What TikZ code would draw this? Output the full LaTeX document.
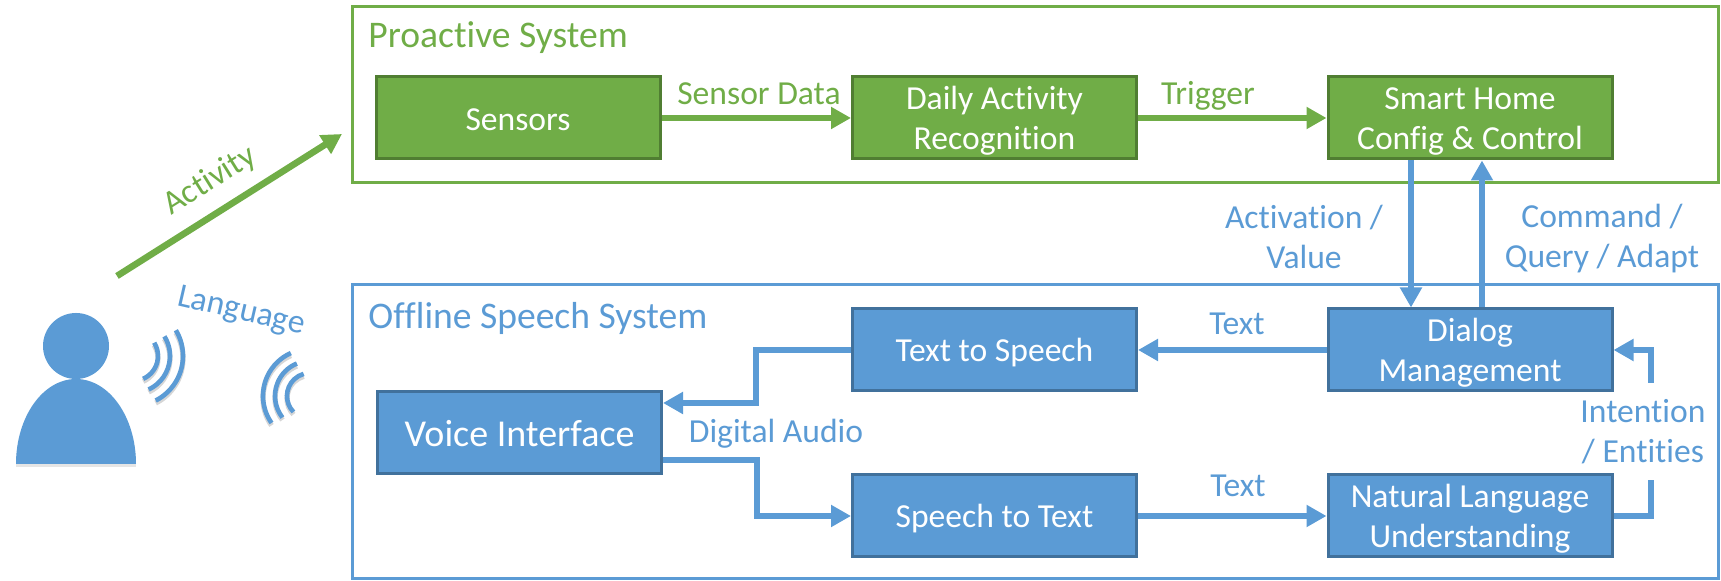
\documentclass[tikz,border=0pt]{standalone}
\usepackage{fontspec}
\setmainfont[Ligatures=NoCommon]{Carlito}
\usetikzlibrary{arrows.meta,positioning}
\definecolor{sysgreen}{HTML}{70AD47}
\definecolor{sysgreenedge}{HTML}{507E32}
\definecolor{sysblue}{HTML}{5B9BD5}
\definecolor{sysblueedge}{HTML}{41719C}

\begin{document}
\begin{tikzpicture}[x=0.5pt,y=0.5pt,>={Triangle[length=10pt,width=10.5pt]}, every node/.style={font=\fontsize{16.8}{20}\selectfont,align=center}]
    \tikzset{textdrop/.style={execute at begin node={\rule{0pt}{#1}}}}
    \tikzset{greenbox/.style={draw=sysgreenedge,fill=sysgreen,line width=1.5pt,text=white,minimum width=142pt,minimum height=41pt,inner sep=0pt}}
    \tikzset{bluebox/.style={draw=sysblueedge,fill=sysblue,line width=1.5pt,text=white,minimum width=142pt,minimum height=41pt,inner sep=0pt}}
    \tikzset{greenframe/.style={draw=sysgreen,line width=1.5pt,minimum width=683pt,inner sep=0pt}}
    \tikzset{blueframe/.style={draw=sysblue,line width=1.5pt,minimum width=683pt,inner sep=0pt}}
    \tikzset{greenline/.style={draw=sysgreen,line width=3.3pt}}
    \tikzset{blueline/.style={draw=sysblue,line width=3.3pt}}
    \tikzset{greenlabel/.style={text=sysgreen,inner sep=0pt}}
    \tikzset{bluelabel/.style={text=sysblue,inner sep=0pt}}
    \tikzset{wave/.style={draw=sysblue,line width=2.3pt}}
    \tikzset{waveshade/.style={draw=black,opacity=0.16,line width=2.6pt}}

    \useasboundingbox (0,0) rectangle (1721,581);

    % Frames
    \node[greenframe,minimum height=88pt] (proactive) at (1035,486) {};
    \node[blueframe,minimum height=147pt] (offline) at (1035,149) {};
    \node[greenlabel,anchor=west,font=\fontsize{18.8}{20}\selectfont] (proactivetitle) at (368,543) {Proactive System};
    \node[bluelabel,anchor=west,font=\fontsize{18.8}{20}\selectfont] (offlinetitle) at (368,263) {Offline Speech System};

    % Proactive
    \node[greenbox,textdrop=12.5pt] (sensors) at (518,463) {Sensors};
    \node[greenbox,textdrop=34pt] (daily) at (994.5,463) {Daily Activity\\Recognition};
    \node[greenbox,textdrop=34pt] (smart) at (1470,463) {Smart Home\\Config \& Control};
    \draw[greenline,->] (sensors) -- (daily);
    \draw[greenline,->] (daily) -- (smart);
    \node[greenlabel] (sensordata) at (759,487) {Sensor Data};
    \node[greenlabel] (trigger) at (1208,485) {Trigger};

    % Offline
    \node[bluebox,textdrop=34pt] (dialog) at (1470,231) {Dialog\\Management};
    \node[bluebox,textdrop=34pt] (nlu) at (1470,65) {Natural Language\\Understanding};
    \node[bluebox,textdrop=14.5pt] (tts) at (994.5,231) {Text to Speech};
    \node[bluebox,textdrop=14.5pt] (stt) at (994.5,65) {Speech to Text};
    \node[bluebox,textdrop=13.7pt,font=\fontsize{19}{20}\selectfont] (voice) at (519.5,148) {Voice Interface};
    \coordinate (ttsbend) at (756,178);
    \coordinate (sttbend) at (757,121);
    \coordinate (nluend) at (1651,101);
    \coordinate (dialogstart) at (1651,198);
    \draw[blueline,->] (dialog) -- (tts);
    \draw[blueline,->] (stt) -- (nlu);
    \draw[blueline,->] (tts.west) -| (ttsbend) -- ([yshift=15pt]voice.east);
    \draw[blueline,->] ([yshift=-13.5pt]voice.east) -- (sttbend) |- (stt.west);
    \draw[blueline] (nlu.east) -| (nluend);
    \draw[blueline,->] (dialogstart) |- (dialog.east);
    \draw[blueline,->] ([xshift=-29.5pt]smart.south) -- ([xshift=-29.5pt]dialog.north);
    \draw[blueline,->] ([xshift=6pt]dialog.north) -- ([xshift=6pt]smart.south);
    \node[bluelabel] (texttop) at (1237,257) {Text};
    \node[bluelabel] (textbottom) at (1238,95) {Text};
    \node[bluelabel] (digitalaudio) at (776,147) {Digital Audio};
    \node[bluelabel] (activation) at (1304,344) {Activation /\\Value};
    \node[bluelabel] (command) at (1602,342) {Command /\\Query / Adapt};
    \node[bluelabel] (intention) at (1643,149) {Intention\\/ Entities};

    % User
    \fill[black,opacity=0.10] (16,114) -- (136,114) arc[start angle=0,end angle=180,x radius=60,y radius=85] -- cycle;
    \fill[sysblue] (16,117) -- (136,117) arc[start angle=0,end angle=180,x radius=60,y radius=85] -- cycle;
    \fill[sysblue] (76,235) circle (33);
    \coordinate (activitystart) at (117,305);
    \coordinate (activityend) at (342,447);
    \draw[greenline,->] (activitystart) -- (activityend);
    \node[greenlabel,rotate=32] (activity) at (210,400) {Activity};
    \node[bluelabel,rotate=-13] (language) at (241,269) {Language};

    % Waves
    \foreach \r/\a/\b in {25/-66/32, 37/-65/32, 50/-63/31} {
      \draw[waveshade] (133,225)++(\a:\r) ++(0,-2.5) arc[start angle=\a,end angle=\b,radius=\r];
      \draw[wave] (133,225)++(\a:\r) arc[start angle=\a,end angle=\b,radius=\r];
    }
    \foreach \r/\a/\b in {23/224/106, 35/218/112, 47/215/114} {
      \draw[waveshade] (310,185)++(\a:\r) ++(0,-2.5) arc[start angle=\a,end angle=\b,radius=\r];
      \draw[wave] (310,185)++(\a:\r) arc[start angle=\a,end angle=\b,radius=\r];
    }
\end{tikzpicture}
\end{document}
